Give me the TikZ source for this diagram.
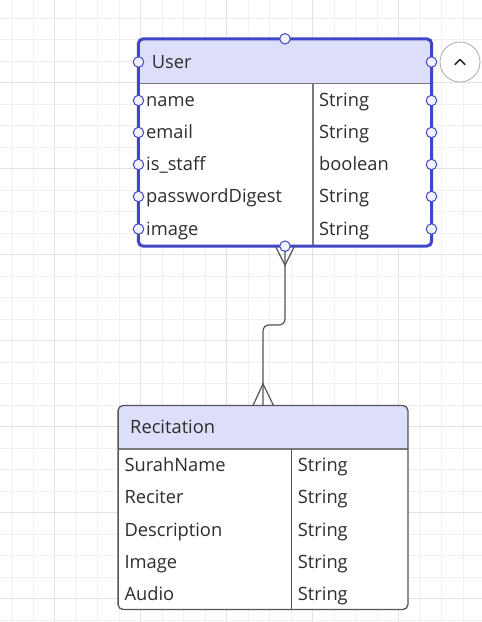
\documentclass[tikz,border=0pt]{standalone}
\usepackage{fontspec}
\setmainfont{Open Sans}
\definecolor{selblue}{RGB}{64,70,200}
\definecolor{hdrfill}{RGB}{221,222,250}
\definecolor{txt}{RGB}{45,45,45}
\definecolor{edgec}{RGB}{85,85,90}
\definecolor{divc}{RGB}{120,120,125}
\definecolor{gridminor}{RGB}{240,240,240}
\definecolor{gridmajor}{RGB}{226,226,226}
\begin{document}
\begin{tikzpicture}[x=1pt,y=-1pt,
  field/.style={anchor=mid west, text=txt, font=\fontsize{18.3}{20}\selectfont, inner sep=0pt, yshift=-3.5pt},
  handle/.style={circle, draw=selblue, fill=hdrfill!40!white, line width=1pt, minimum size=10.5pt, inner sep=0pt},
  boxbody/.style={fill=white, inner sep=0pt},
  conn/.style={draw=edgec, line width=1.2pt},
  divline/.style={draw=divc, line width=1.2pt}]
\useasboundingbox (0,0) rectangle (482,622);
\fill[white] (0,0) rectangle (482,622);
% grid
\foreach \k in {0,...,22}{
  \pgfmathsetmacro{\gx}{11.7+21.5*\k}
  \pgfmathtruncatemacro{\m}{mod(\k,4)}
  \ifnum\m=2 \draw[gridmajor,line width=1.2pt] (\gx,0) -- (\gx,622);
  \else \draw[gridminor,line width=1pt] (\gx,0) -- (\gx,622); \fi
}
\foreach \k in {0,...,28}{
  \pgfmathsetmacro{\gy}{18.2+21.5*\k}
  \pgfmathtruncatemacro{\m}{mod(\k,4)}
  \ifnum\m=3 \draw[gridmajor,line width=1.2pt] (0,\gy) -- (482,\gy);
  \else \draw[gridminor,line width=1pt] (0,\gy) -- (482,\gy); \fi
}
% ---------- User ----------
\node[boxbody, minimum width=293pt, minimum height=207pt] (user) at (285,142.5) {};
\begin{scope}
  \clip[rounded corners=5pt] (user.north west) rectangle (user.south east);
  \fill[hdrfill] (user.north west) rectangle (431.5,83.3);
\end{scope}
\draw[divline] (138.5,83.3) -- (431.5,83.3);
\draw[divline] (313,83.3) -- (313,246);
\draw[selblue, line width=3pt, rounded corners=5pt] (user.north west) rectangle (user.south east);
\node[field] (uhead) at (151.7,62) {User};
\node[field] (u1) at (146,100.5) {name};
\node[field] (u2) at (146,132.5) {email};
\node[field] (u3) at (146,164.5) {is\_staff};
\node[field] (u4) at (146,196.5) {passwordDigest};
\node[field] (u5) at (146,229) {image};
\node[field] (t1) at (319,100.5) {String};
\node[field] (t2) at (319,132.5) {String};
\node[field] (t3) at (319,164.5) {boolean};
\node[field] (t4) at (319,196.5) {String};
\node[field] (t5) at (319,229) {String};
% ---------- Recitation ----------
\node[boxbody, minimum width=289.4pt, minimum height=203.6pt] (rec) at (263,507.5) {};
\begin{scope}
  \clip[rounded corners=5pt] (rec.north west) rectangle (rec.south east);
  \fill[hdrfill] (rec.north west) rectangle (407.7,449);
\end{scope}
\draw[divline] (118.3,449) -- (407.7,449);
\draw[draw=edgec, line width=1.2pt] (291.7,449) -- (291.7,609.3);
\draw[draw=edgec, line width=1.3pt, rounded corners=5pt] (rec.north west) rectangle (rec.south east);
\node[field] (rhead) at (130,427.5) {Recitation};
\node[field] (r1) at (124.3,465.5) {SurahName};
\node[field] (r2) at (124.3,497.5) {Reciter};
\node[field] (r3) at (124.3,530) {Description};
\node[field] (r4) at (124.3,562) {Image};
\node[field] (r5) at (124.3,594.5) {Audio};
\node[field] (s1) at (297.7,465.5) {String};
\node[field] (s2) at (297.7,497.5) {String};
\node[field] (s3) at (297.7,530) {String};
\node[field] (s4) at (297.7,562) {String};
\node[field] (s5) at (297.7,594.5) {String};
% ---------- connector ----------
\draw[conn, rounded corners=6pt] (user.south) -- (user.south |- 0,325) -- (rec.north |- 0,325) -- (rec.north);
\draw[conn] ([xshift=-9.5pt]user.south) -- ([yshift=-19pt]user.south) -- ([xshift=9.5pt]user.south);
\draw[conn] ([xshift=-10pt]rec.north) -- ([yshift=21.7pt]rec.north) -- ([xshift=10.5pt]rec.north);
% ---------- handles ----------
\foreach \hy [count=\i] in {62,100.5,132.5,164.5,196.5,229}{
  \node[handle] (hl\i) at (138.5,\hy) {};
  \node[handle] (hr\i) at (431.5,\hy) {};
}
\node[handle] (htop) at (user.north) {};
\node[handle] (hbot) at (user.south) {};
% ---------- collapse button ----------
\node[circle, draw=gray!65, fill=white, minimum size=40pt, line width=0.8pt, inner sep=0pt] (btn) at (460,62) {};
\draw[txt, line width=1.6pt, line cap=round, line join=round]
  ([shift={(-5pt,-2.5pt)}]btn.center) -- ([shift={(0pt,2.5pt)}]btn.center) -- ([shift={(5pt,-2.5pt)}]btn.center);
\end{tikzpicture}
\end{document}
